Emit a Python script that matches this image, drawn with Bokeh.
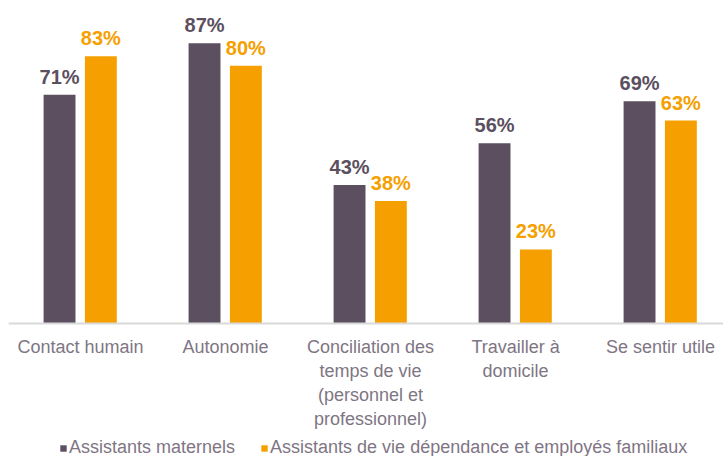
from bokeh.plotting import figure
from bokeh.models import Range1d, Legend, LegendItem, ColumnDataSource, Span
from bokeh.embed import file_html
from bokeh.resources import INLINE
from bokeh.core.properties import value

categories = ["Contact humain", "Autonomie",
              "Conciliation des\ntemps de vie\n(personnel et\nprofessionnel)",
              "Travailler à\ndomicile", "Se sentir utile"]
assistants_maternels = [71, 87, 43, 56, 69]
assistants_vie = [83, 80, 38, 23, 63]
series_names = ["Assistants maternels", "Assistants de vie dépendance et employés familiaux"]

PURPLE = "#5b4f60"
ORANGE = "#f5a000"
GRAY = "#807584"
FONT = "Liberation Sans"

xs = list(range(len(categories)))
x1 = [x - 0.145 for x in xs]
x2 = [x + 0.14 for x in xs]

p = figure(frame_width=715, frame_height=448, output_backend="svg", toolbar_location=None,
           x_range=Range1d(-0.497, 4.434), y_range=Range1d(-41.3, 97.8),
           min_border_left=8, min_border_right=0, min_border_top=8, min_border_bottom=0)
p.outline_line_color = None
p.xgrid.visible = False
p.ygrid.visible = False
p.yaxis.visible = False
p.xaxis.visible = False

s1 = ColumnDataSource(dict(x=x1, top=assistants_maternels, lab=[f"{v}%" for v in assistants_maternels]))
s2 = ColumnDataSource(dict(x=x2, top=assistants_vie, lab=[f"{v}%" for v in assistants_vie]))
sc = ColumnDataSource(dict(x=xs, y=[0] * len(xs), lab=categories))

r1 = p.vbar(x="x", top="top", bottom=0, width=0.22, source=s1, fill_color=PURPLE, line_color=None)
r2 = p.vbar(x="x", top="top", bottom=0, width=0.22, source=s2, fill_color=ORANGE, line_color=None)

p.add_layout(Span(location=0, dimension="width", line_color="#d9d9d9", line_width=2))

p.text(x="x", y="top", text="lab", source=s1, text_align="center", text_baseline="alphabetic",
       y_offset=-18, text_font=value(FONT), text_font_style="bold", text_font_size="20px",
       text_color=PURPLE)
p.text(x="x", y="top", text="lab", source=s2, text_align="center", text_baseline="alphabetic",
       y_offset=-18, text_font=value(FONT), text_font_style="bold", text_font_size="20px",
       text_color=ORANGE)

# category labels under the baseline
p.text(x="x", y="y", text="lab", source=sc, text_align="center", text_baseline="top",
       y_offset=14, text_font=value(FONT), text_font_size="18px", text_color=GRAY,
       text_line_height=1.2)

legend = Legend(items=[LegendItem(label=series_names[0], renderers=[r1]),
                       LegendItem(label=series_names[1], renderers=[r2])],
                orientation="horizontal", location=(51, -2),
                label_text_font=FONT, label_text_font_size="18px", label_text_color=GRAY,
                glyph_width=8, glyph_height=8, label_standoff=2, spacing=25,
                border_line_color=None, background_fill_alpha=0, padding=0, margin=0)
p.add_layout(legend, "center")

open("out.html", "w").write(file_html(p, INLINE))
